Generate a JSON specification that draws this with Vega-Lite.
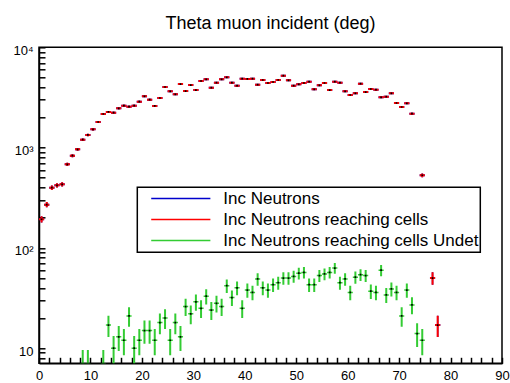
{
  "$schema": "https://vega.github.io/schema/vega-lite/v6.json",
  "width": 463,
  "height": 316,
  "autosize": {"type": "none"},
  "padding": {"left": 39, "top": 47.3, "right": 8, "bottom": 19.7},
  "background": "white",
  "title": {"text": "Theta muon incident (deg)", "frame": "group", "anchor": "middle", "baseline": "alphabetic", "offset": -3, "fontSize": 18, "font": "Liberation Sans", "fontWeight": "normal", "color": "black"},
  "datasets": {
    "reach": [
      {"x0":0,"x1":1,"xc":0.5,"n":193,"lo":179,"hi":207},
      {"x0":1,"x1":2,"xc":1.5,"n":270,"lo":254,"hi":286},
      {"x0":2,"x1":3,"xc":2.5,"n":398,"lo":378,"hi":418},
      {"x0":3,"x1":4,"xc":3.5,"n":421,"lo":401,"hi":442},
      {"x0":4,"x1":5,"xc":4.5,"n":431,"lo":410,"hi":452},
      {"x0":5,"x1":6,"xc":5.5,"n":681,"lo":655,"hi":707},
      {"x0":6,"x1":7,"xc":6.5,"n":830,"lo":801,"hi":859},
      {"x0":7,"x1":8,"xc":7.5,"n":961,"lo":930,"hi":992},
      {"x0":8,"x1":9,"xc":8.5,"n":1199,"lo":1164,"hi":1234},
      {"x0":9,"x1":10,"xc":9.5,"n":1336,"lo":1299,"hi":1373},
      {"x0":10,"x1":11,"xc":10.5,"n":1522,"lo":1483,"hi":1561},
      {"x0":11,"x1":12,"xc":11.5,"n":1800,"lo":1758,"hi":1842},
      {"x0":12,"x1":13,"xc":12.5,"n":2163,"lo":2117,"hi":2210},
      {"x0":13,"x1":14,"xc":13.5,"n":2265,"lo":2217,"hi":2313},
      {"x0":14,"x1":15,"xc":14.5,"n":2229,"lo":2182,"hi":2276},
      {"x0":15,"x1":16,"xc":15.5,"n":2466,"lo":2416,"hi":2516},
      {"x0":16,"x1":17,"xc":16.5,"n":2618,"lo":2567,"hi":2669},
      {"x0":17,"x1":18,"xc":17.5,"n":2560,"lo":2509,"hi":2611},
      {"x0":18,"x1":19,"xc":18.5,"n":2618,"lo":2567,"hi":2669},
      {"x0":19,"x1":20,"xc":19.5,"n":2870,"lo":2816,"hi":2924},
      {"x0":20,"x1":21,"xc":20.5,"n":3245,"lo":3188,"hi":3302},
      {"x0":21,"x1":22,"xc":21.5,"n":3006,"lo":2951,"hi":3061},
      {"x0":22,"x1":23,"xc":22.5,"n":2600,"lo":2549,"hi":2651},
      {"x0":23,"x1":24,"xc":23.5,"n":3123,"lo":3067,"hi":3179},
      {"x0":24,"x1":25,"xc":24.5,"n":4020,"lo":3957,"hi":4083},
      {"x0":25,"x1":26,"xc":25.5,"n":3640,"lo":3580,"hi":3700},
      {"x0":26,"x1":27,"xc":26.5,"n":3400,"lo":3342,"hi":3458},
      {"x0":27,"x1":28,"xc":27.5,"n":4305,"lo":4239,"hi":4371},
      {"x0":28,"x1":29,"xc":28.5,"n":3665,"lo":3604,"hi":3726},
      {"x0":29,"x1":30,"xc":29.5,"n":4207,"lo":4142,"hi":4272},
      {"x0":30,"x1":31,"xc":30.5,"n":3750,"lo":3689,"hi":3811},
      {"x0":31,"x1":32,"xc":31.5,"n":4613,"lo":4545,"hi":4681},
      {"x0":32,"x1":33,"xc":32.5,"n":4797,"lo":4728,"hi":4866},
      {"x0":33,"x1":34,"xc":33.5,"n":3954,"lo":3891,"hi":4017},
      {"x0":34,"x1":35,"xc":34.5,"n":4436,"lo":4369,"hi":4503},
      {"x0":35,"x1":36,"xc":35.5,"n":4797,"lo":4728,"hi":4866},
      {"x0":36,"x1":37,"xc":36.5,"n":5023,"lo":4952,"hi":5094},
      {"x0":37,"x1":38,"xc":37.5,"n":4436,"lo":4369,"hi":4503},
      {"x0":38,"x1":39,"xc":38.5,"n":4140,"lo":4076,"hi":4204},
      {"x0":39,"x1":40,"xc":39.5,"n":4864,"lo":4794,"hi":4934},
      {"x0":40,"x1":41,"xc":40.5,"n":4840,"lo":4770,"hi":4910},
      {"x0":41,"x1":42,"xc":41.5,"n":4864,"lo":4794,"hi":4934},
      {"x0":42,"x1":43,"xc":42.5,"n":4237,"lo":4172,"hi":4302},
      {"x0":43,"x1":44,"xc":43.5,"n":4720,"lo":4651,"hi":4789},
      {"x0":44,"x1":45,"xc":44.5,"n":4406,"lo":4340,"hi":4472},
      {"x0":45,"x1":46,"xc":45.5,"n":4508,"lo":4441,"hi":4575},
      {"x0":46,"x1":47,"xc":46.5,"n":4720,"lo":4651,"hi":4789},
      {"x0":47,"x1":48,"xc":47.5,"n":5210,"lo":5138,"hi":5282},
      {"x0":48,"x1":49,"xc":48.5,"n":4688,"lo":4620,"hi":4757},
      {"x0":49,"x1":50,"xc":49.5,"n":4140,"lo":4076,"hi":4204},
      {"x0":50,"x1":51,"xc":50.5,"n":4276,"lo":4211,"hi":4341},
      {"x0":51,"x1":52,"xc":51.5,"n":4406,"lo":4340,"hi":4472},
      {"x0":52,"x1":53,"xc":52.5,"n":4540,"lo":4473,"hi":4607},
      {"x0":53,"x1":54,"xc":53.5,"n":3812,"lo":3750,"hi":3874},
      {"x0":54,"x1":55,"xc":54.5,"n":4180,"lo":4115,"hi":4245},
      {"x0":55,"x1":56,"xc":55.5,"n":4406,"lo":4340,"hi":4472},
      {"x0":56,"x1":57,"xc":56.5,"n":3750,"lo":3689,"hi":3811},
      {"x0":57,"x1":58,"xc":57.5,"n":4540,"lo":4473,"hi":4607},
      {"x0":58,"x1":59,"xc":58.5,"n":4436,"lo":4369,"hi":4503},
      {"x0":59,"x1":60,"xc":59.5,"n":3640,"lo":3580,"hi":3700},
      {"x0":60,"x1":61,"xc":60.5,"n":3345,"lo":3287,"hi":3403},
      {"x0":61,"x1":62,"xc":61.5,"n":3475,"lo":3416,"hi":3534},
      {"x0":62,"x1":63,"xc":62.5,"n":4335,"lo":4269,"hi":4401},
      {"x0":63,"x1":64,"xc":63.5,"n":3580,"lo":3520,"hi":3640},
      {"x0":64,"x1":65,"xc":64.5,"n":3840,"lo":3778,"hi":3902},
      {"x0":65,"x1":66,"xc":65.5,"n":3776,"lo":3715,"hi":3837},
      {"x0":66,"x1":67,"xc":66.5,"n":3170,"lo":3114,"hi":3226},
      {"x0":67,"x1":68,"xc":67.5,"n":3220,"lo":3163,"hi":3277},
      {"x0":68,"x1":69,"xc":68.5,"n":3475,"lo":3416,"hi":3534},
      {"x0":69,"x1":70,"xc":69.5,"n":2784,"lo":2731,"hi":2837},
      {"x0":70,"x1":71,"xc":70.5,"n":2540,"lo":2490,"hi":2590},
      {"x0":71,"x1":72,"xc":71.5,"n":2766,"lo":2713,"hi":2819},
      {"x0":72,"x1":73,"xc":72.5,"n":2178,"lo":2131,"hi":2225},
      {"x0":74,"x1":75,"xc":74.5,"n":530,"lo":507,"hi":553},
      {"x0":76,"x1":77,"xc":76.5,"n":50,"lo":42.9,"hi":57.1},
      {"x0":77,"x1":78,"xc":77.5,"n":17,"lo":12.9,"hi":21.1}
    ],
    "undet": [
      {"x0":8,"x1":9,"xc":8.5,"n":7,"lo":4.4,"hi":9.6},
      {"x0":9,"x1":10,"xc":9.5,"n":7,"lo":4.4,"hi":9.6},
      {"x0":12,"x1":13,"xc":12.5,"n":7,"lo":4.4,"hi":9.6},
      {"x0":13,"x1":14,"xc":13.5,"n":17,"lo":12.9,"hi":21.1},
      {"x0":14,"x1":15,"xc":14.5,"n":10,"lo":6.8,"hi":13.2},
      {"x0":15,"x1":16,"xc":15.5,"n":13,"lo":9.4,"hi":16.6},
      {"x0":16,"x1":17,"xc":16.5,"n":12,"lo":8.5,"hi":15.5},
      {"x0":17,"x1":18,"xc":17.5,"n":21,"lo":16.4,"hi":25.6},
      {"x0":18,"x1":19,"xc":18.5,"n":10,"lo":6.8,"hi":13.2},
      {"x0":19,"x1":20,"xc":19.5,"n":12,"lo":8.5,"hi":15.5},
      {"x0":20,"x1":21,"xc":20.5,"n":15,"lo":11.1,"hi":18.9},
      {"x0":21,"x1":22,"xc":21.5,"n":15,"lo":11.1,"hi":18.9},
      {"x0":22,"x1":23,"xc":22.5,"n":12,"lo":8.5,"hi":15.5},
      {"x0":23,"x1":24,"xc":23.5,"n":18,"lo":13.8,"hi":22.2},
      {"x0":24,"x1":25,"xc":24.5,"n":20,"lo":15.5,"hi":24.5},
      {"x0":25,"x1":26,"xc":25.5,"n":12,"lo":8.5,"hi":15.5},
      {"x0":26,"x1":27,"xc":26.5,"n":18,"lo":13.8,"hi":22.2},
      {"x0":27,"x1":28,"xc":27.5,"n":13,"lo":9.4,"hi":16.6},
      {"x0":28,"x1":29,"xc":28.5,"n":26,"lo":20.9,"hi":31.1},
      {"x0":29,"x1":30,"xc":29.5,"n":22,"lo":17.3,"hi":26.7},
      {"x0":30,"x1":31,"xc":30.5,"n":29,"lo":23.6,"hi":34.4},
      {"x0":31,"x1":32,"xc":31.5,"n":25,"lo":20,"hi":30},
      {"x0":32,"x1":33,"xc":32.5,"n":33,"lo":27.3,"hi":38.7},
      {"x0":33,"x1":34,"xc":33.5,"n":24,"lo":19.1,"hi":28.9},
      {"x0":34,"x1":35,"xc":34.5,"n":28,"lo":22.7,"hi":33.3},
      {"x0":35,"x1":36,"xc":35.5,"n":26,"lo":20.9,"hi":31.1},
      {"x0":36,"x1":37,"xc":36.5,"n":42,"lo":35.5,"hi":48.5},
      {"x0":37,"x1":38,"xc":37.5,"n":32,"lo":26.3,"hi":37.7},
      {"x0":38,"x1":39,"xc":38.5,"n":40,"lo":33.7,"hi":46.3},
      {"x0":39,"x1":40,"xc":39.5,"n":25,"lo":20,"hi":30},
      {"x0":40,"x1":41,"xc":40.5,"n":38,"lo":31.8,"hi":44.2},
      {"x0":41,"x1":42,"xc":41.5,"n":36,"lo":30,"hi":42},
      {"x0":42,"x1":43,"xc":42.5,"n":49,"lo":42,"hi":56},
      {"x0":43,"x1":44,"xc":43.5,"n":40,"lo":33.7,"hi":46.3},
      {"x0":44,"x1":45,"xc":44.5,"n":38,"lo":31.8,"hi":44.2},
      {"x0":45,"x1":46,"xc":45.5,"n":43,"lo":36.4,"hi":49.6},
      {"x0":46,"x1":47,"xc":46.5,"n":45,"lo":38.3,"hi":51.7},
      {"x0":47,"x1":48,"xc":47.5,"n":50,"lo":42.9,"hi":57.1},
      {"x0":48,"x1":49,"xc":48.5,"n":50,"lo":42.9,"hi":57.1},
      {"x0":49,"x1":50,"xc":49.5,"n":52,"lo":44.8,"hi":59.2},
      {"x0":50,"x1":51,"xc":50.5,"n":56,"lo":48.5,"hi":63.5},
      {"x0":51,"x1":52,"xc":51.5,"n":57,"lo":49.5,"hi":64.5},
      {"x0":52,"x1":53,"xc":52.5,"n":43,"lo":36.4,"hi":49.6},
      {"x0":53,"x1":54,"xc":53.5,"n":43,"lo":36.4,"hi":49.6},
      {"x0":54,"x1":55,"xc":54.5,"n":53,"lo":45.7,"hi":60.3},
      {"x0":55,"x1":56,"xc":55.5,"n":55,"lo":47.6,"hi":62.4},
      {"x0":56,"x1":57,"xc":56.5,"n":57,"lo":49.5,"hi":64.5},
      {"x0":57,"x1":58,"xc":57.5,"n":63,"lo":55.1,"hi":70.9},
      {"x0":58,"x1":59,"xc":58.5,"n":45,"lo":38.3,"hi":51.7},
      {"x0":59,"x1":60,"xc":59.5,"n":49,"lo":42,"hi":56},
      {"x0":60,"x1":61,"xc":60.5,"n":36,"lo":30,"hi":42},
      {"x0":61,"x1":62,"xc":61.5,"n":51,"lo":43.9,"hi":58.1},
      {"x0":62,"x1":63,"xc":62.5,"n":54,"lo":46.7,"hi":61.3},
      {"x0":63,"x1":64,"xc":63.5,"n":53,"lo":45.7,"hi":60.3},
      {"x0":64,"x1":65,"xc":64.5,"n":37,"lo":30.9,"hi":43.1},
      {"x0":65,"x1":66,"xc":65.5,"n":36,"lo":30,"hi":42},
      {"x0":66,"x1":67,"xc":66.5,"n":60,"lo":52.3,"hi":67.7},
      {"x0":67,"x1":68,"xc":67.5,"n":34,"lo":28.2,"hi":39.8},
      {"x0":68,"x1":69,"xc":68.5,"n":39,"lo":32.8,"hi":45.2},
      {"x0":69,"x1":70,"xc":69.5,"n":36,"lo":30,"hi":42},
      {"x0":70,"x1":71,"xc":70.5,"n":21,"lo":16.4,"hi":25.6},
      {"x0":71,"x1":72,"xc":71.5,"n":38,"lo":31.8,"hi":44.2},
      {"x0":72,"x1":73,"xc":72.5,"n":27,"lo":21.8,"hi":32.2},
      {"x0":73,"x1":74,"xc":73.5,"n":14,"lo":10.3,"hi":17.7},
      {"x0":74,"x1":75,"xc":74.5,"n":12,"lo":8.5,"hi":15.5}
    ]
  },
  "encoding": {
    "x": {"type": "quantitative", "scale": {"domain": [0, 90], "nice": false, "zero": false},
      "axis": {"title": null, "values": [0,2,4,6,8,10,12,14,16,18,20,22,24,26,28,30,32,34,36,38,40,42,44,46,48,50,52,54,56,58,60,62,64,66,68,70,72,74,76,78,80,82,84,86,88,90],
        "labelExpr": "datum.value % 10 == 0 ? datum.label : ''", "labelFlush": false, "labelOverlap": false, "tickSize": -6, "labelPadding": 12,
        "encode": {"ticks": {"update": {"y2": {"signal": "datum.value % 10 == 0 ? -10 : -5"}}}}}},
    "y": {"type": "quantitative", "scale": {"type": "log", "domain": [7.07, 10000], "nice": false},
      "axis": {"title": null, "values": [8,9,10,20,30,40,50,60,70,80,90,100,200,300,400,500,600,700,800,900,1000,2000,3000,4000,5000,6000,7000,8000,9000,10000],
        "labelExpr": "datum.value == 10 ? '10' : datum.value == 100 ? '10²' : datum.value == 1000 ? '10³' : datum.value == 10000 ? '10⁴' : ''",
        "labelFlush": false, "labelOverlap": false, "tickSize": -6, "labelPadding": 12, "labelOffset": 3,
        "encode": {"ticks": {"update": {"x2": {"signal": "(datum.value == 10 || datum.value == 100 || datum.value == 1000 || datum.value == 10000) ? 12 : 6"}}}}}}
  },
  "layer": [
    {"data": {"name": "reach"}, "layer": [
      {"mark": {"type": "rule", "strokeWidth": 2, "clip": true},
       "encoding": {"x": {"field": "x0"}, "x2": {"field": "x1"}, "y": {"field": "n"},
         "color": {"datum": "Inc Neutrons", "type": "nominal",
           "scale": {"domain": ["Inc Neutrons", "Inc Neutrons reaching cells", "Inc Neutrons reaching cells Undet"], "range": ["#0000cc", "#ff0000", "#33cc33"]},
           "legend": {"title": null, "orient": "none", "legendX": 98.3, "legendY": 140, "symbolType": "stroke", "symbolSize": 3500, "symbolStrokeWidth": 1.5, "clipHeight": 20.5, "labelFontSize": 17, "labelFont": "Liberation Sans", "labelColor": "black", "labelLimit": 500, "padding": 1, "symbolOffset": 12, "labelOffset": 12, "rowPadding": 0, "strokeColor": "black", "fillColor": "white",
             "encode": {"legend": {"update": {"strokeWidth": {"value": 1.5}}}}}}}},
      {"mark": {"type": "rule", "strokeWidth": 1.5, "clip": true},
       "encoding": {"x": {"field": "xc"}, "y": {"field": "lo"}, "y2": {"field": "hi"}, "color": {"datum": "Inc Neutrons", "type": "nominal"}}}
    ]},
    {"data": {"name": "reach"}, "layer": [
      {"mark": {"type": "rule", "strokeWidth": 2, "clip": true},
       "encoding": {"x": {"field": "x0"}, "x2": {"field": "x1"}, "y": {"field": "n"}, "color": {"datum": "Inc Neutrons reaching cells", "type": "nominal"}}},
      {"mark": {"type": "rule", "strokeWidth": 2, "clip": true},
       "encoding": {"x": {"field": "xc"}, "y": {"field": "lo"}, "y2": {"field": "hi"}, "color": {"datum": "Inc Neutrons reaching cells", "type": "nominal"}}},
      {"mark": {"type": "point", "shape": "square", "size": 3, "filled": true, "color": "black", "opacity": 1, "clip": true},
       "encoding": {"x": {"field": "xc"}, "y": {"field": "n"}}}
    ]},
    {"data": {"name": "undet"}, "layer": [
      {"mark": {"type": "rule", "strokeWidth": 1.5, "clip": true},
       "encoding": {"x": {"field": "x0"}, "x2": {"field": "x1"}, "y": {"field": "n"}, "color": {"datum": "Inc Neutrons reaching cells Undet", "type": "nominal"}}},
      {"mark": {"type": "rule", "strokeWidth": 2, "clip": true},
       "encoding": {"x": {"field": "xc"}, "y": {"field": "lo"}, "y2": {"field": "hi"}, "color": {"datum": "Inc Neutrons reaching cells Undet", "type": "nominal"}}},
      {"mark": {"type": "point", "shape": "square", "size": 3, "filled": true, "color": "black", "opacity": 1, "clip": true},
       "encoding": {"x": {"field": "xc"}, "y": {"field": "n"}}}
    ]}
  ],
  "config": {
    "view": {"stroke": "black", "strokeWidth": 1.5},
    "axis": {"grid": false, "domainColor": "black", "domainWidth": 1.5, "tickColor": "black", "tickWidth": 1.5, "labelColor": "black", "labelFont": "Liberation Sans", "labelFontSize": 13}
  }
}
